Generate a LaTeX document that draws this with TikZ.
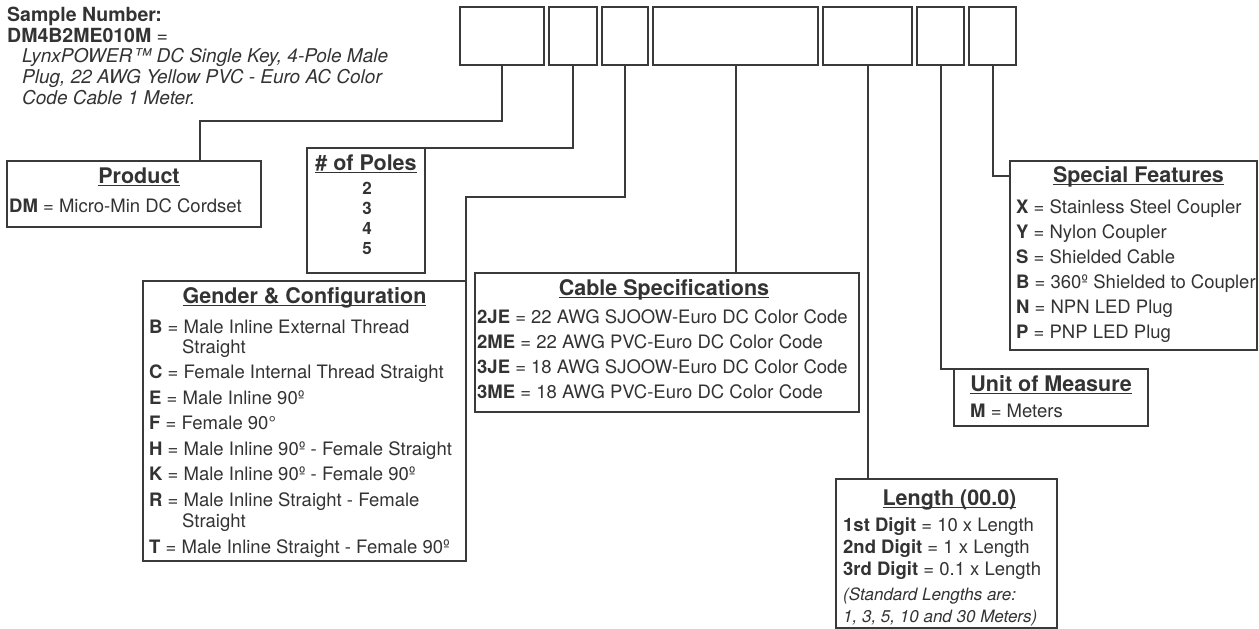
\documentclass[tikz,border=0pt]{standalone}
\usepackage{fontspec}
\setmainfont{TeX Gyre Heros}
\usetikzlibrary{calc,positioning}
\definecolor{Ink}{HTML}{333333}
\definecolor{Wire}{HTML}{3A3A3A}
\newcommand{\ulttl}[1]{\setbox0=\hbox{#1}\rlap{\rule[-3pt]{\wd0}{1.3pt}}\box0}
\tikzset{
  codebox/.style={
    draw=Wire, line width=2.2pt, fill=white, minimum height=58,
    inner sep=0pt, outer sep=0pt
  },
  panel/.style={
    draw=Wire, line width=2.2pt, fill=white, anchor=north west,
    inner sep=0pt, outer sep=0pt
  },
  heading/.style={anchor=base, inner sep=0pt, text=Ink, font=\fontsize{21.5}{24}\selectfont\bfseries},
  entry/.style={anchor=base west, inner sep=0pt, text=Ink, font=\fontsize{18.5}{21}\selectfont},
  digit/.style={anchor=base, inner sep=0pt, text=Ink, font=\fontsize{17}{20}\selectfont\bfseries},
  remark/.style={anchor=base west, inner sep=0pt, text=Ink, font=\fontsize{19}{23}\selectfont\itshape},
  wire/.style={draw=Wire, line width=2pt}
}

\begin{document}
\begin{tikzpicture}[x=1pt,y=-1pt]
    \useasboundingbox (0,0) rectangle (1259,629);
    % sample
    \node[entry,font=\fontsize{19.5}{23}\selectfont\bfseries] (samp) at (7,21) {Sample Number:};
    \node[entry,font=\fontsize{19.5}{23}\selectfont] (code) at (7,42) {\textbf{DM4B2ME010M} =};
    \node[remark] (desc1) at (22,62) {LynxPOWER™ DC Single Key, 4-Pole Male};
    \node[remark] (desc2) at (22,83) {Plug, 22 AWG Yellow PVC - Euro AC Color};
    \node[remark] (desc3) at (22,104) {Code Cable 1 Meter.};
    % part number boxes
    \node[codebox,minimum width=84,anchor=north west] (c1) at (460,7) {};
    \node[codebox,minimum width=48,right=5pt of c1] (c2) {};
    \node[codebox,minimum width=46,right=5pt of c2] (c3) {};
    \node[codebox,minimum width=165,right=5pt of c3] (c4) {};
    \node[codebox,minimum width=89,right=5pt of c4] (c5) {};
    \node[codebox,minimum width=47,right=5pt of c5] (c6) {};
    \node[codebox,minimum width=47,right=5pt of c6] (c7) {};
    % product
    \node[panel,minimum width=254,minimum height=66] (prod) at (7,161) {};
    \node[heading] at ($(prod.north)+(5,22)$) {\ulttl{Product}};
    \node[entry] at ($(prod.north west)+(2,51)$) {\textbf{DM} = Micro-Min DC Cordset};
    % poles
    \node[panel,minimum width=118,minimum height=125] (poles) at (307,148) {};
    \node[heading] at ($(poles.north)+(0,22)$) {\ulttl{\# of Poles}};
    \node[digit] at ($(poles.north)+(1,46)$) {2};
    \node[digit] at ($(poles.north)+(1,66)$) {3};
    \node[digit] at ($(poles.north)+(1,86)$) {4};
    \node[digit] at ($(poles.north)+(1,106)$) {5};
    % gender
    \node[panel,minimum width=323,minimum height=280] (gend) at (143,281) {};
    \node[heading] at ($(gend.north)+(0,22)$) {\ulttl{Gender \& Configuration}};
    \node[entry] at ($(gend.north west)+(6,52)$) {\textbf{B} = Male Inline External Thread};
    \node[entry] at ($(gend.north west)+(39,72)$) {Straight};
    \node[entry] at ($(gend.north west)+(6,97)$) {\textbf{C} = Female Internal Thread Straight};
    \node[entry] at ($(gend.north west)+(6,123)$) {\textbf{E} = Male Inline 90º};
    \node[entry] at ($(gend.north west)+(6,148)$) {\textbf{F} = Female 90°};
    \node[entry] at ($(gend.north west)+(6,174)$) {\textbf{H} = Male Inline 90º - Female Straight};
    \node[entry] at ($(gend.north west)+(6,199)$) {\textbf{K} = Male Inline 90º - Female 90º};
    \node[entry] at ($(gend.north west)+(6,225)$) {\textbf{R} = Male Inline Straight - Female};
    \node[entry] at ($(gend.north west)+(39,246)$) {Straight};
    \node[entry] at ($(gend.north west)+(6,272)$) {\textbf{T} = Male Inline Straight - Female 90º};
    % cable
    \node[panel,minimum width=384,minimum height=139] (cable) at (475,273) {};
    \node[heading] at ($(cable.north)+(-3,22)$) {\ulttl{Cable Specifications}};
    \node[entry] at ($(cable.north west)+(2,50)$) {\textbf{2JE} = 22 AWG SJOOW-Euro DC Color Code};
    \node[entry] at ($(cable.north west)+(2,75)$) {\textbf{2ME} = 22 AWG PVC-Euro DC Color Code};
    \node[entry] at ($(cable.north west)+(2,100)$) {\textbf{3JE} = 18 AWG SJOOW-Euro DC Color Code};
    \node[entry] at ($(cable.north west)+(2,125)$) {\textbf{3ME} = 18 AWG PVC-Euro DC Color Code};
    % length
    \node[panel,minimum width=221,minimum height=149] (len) at (836,479) {};
    \node[heading] at ($(len.north)+(3,26)$) {\ulttl{Length (00.0)}};
    \node[entry] at ($(len.north west)+(7,52)$) {\textbf{1st Digit} = 10 x Length};
    \node[entry] at ($(len.north west)+(7,74)$) {\textbf{2nd Digit} = 1 x Length};
    \node[entry] at ($(len.north west)+(7,96)$) {\textbf{3rd Digit} = 0.1 x Length};
    \node[remark,font=\fontsize{17}{20}\selectfont\itshape] at ($(len.north west)+(7,121)$) {(Standard Lengths are:};
    \node[remark,font=\fontsize{17}{20}\selectfont\itshape] at ($(len.north west)+(7,143)$) {1, 3, 5, 10 and 30 Meters)};
    % unit
    \node[panel,minimum width=194,minimum height=57] (unit) at (954,369) {};
    \node[heading] at ($(unit.north)+(0,22)$) {\ulttl{Unit of Measure}};
    \node[entry] at ($(unit.north west)+(16,48)$) {\textbf{M} = Meters};
    % special
    \node[panel,minimum width=247,minimum height=189] (spec) at (1010,161) {};
    \node[heading] at ($(spec.north)+(5,21)$) {\ulttl{Special Features}};
    \node[entry] at ($(spec.north west)+(6,52)$) {\textbf{X} = Stainless Steel Coupler};
    \node[entry] at ($(spec.north west)+(6,77)$) {\textbf{Y} = Nylon Coupler};
    \node[entry] at ($(spec.north west)+(6,102)$) {\textbf{S} = Shielded Cable};
    \node[entry] at ($(spec.north west)+(6,127)$) {\textbf{B} = 360º Shielded to Coupler};
    \node[entry] at ($(spec.north west)+(6,152)$) {\textbf{N} = NPN LED Plug};
    \node[entry] at ($(spec.north west)+(6,177)$) {\textbf{P} = PNP LED Plug};
    % leaders
    \coordinate (prodbend) at (200,121);
    \coordinate (gendbend) at (466,197);
    \coordinate (specbend) at (1010,176);
    \draw[wire] (c1.south) |- (prodbend) -- (prodbend |- prod.north);
    \draw[wire] (c2.south) |- (poles.north east);
    \draw[wire] (c3.south) |- (gendbend) -- (gend.north east);
    \draw[wire] (c4.south) -- (c4.south |- cable.north);
    \draw[wire] (c5.south) -- (c5.south |- len.north);
    \draw[wire] (c6.south) |- (unit.north west);
    \draw[wire] (c7.south) |- (specbend);
  \end{tikzpicture}
\end{document}
